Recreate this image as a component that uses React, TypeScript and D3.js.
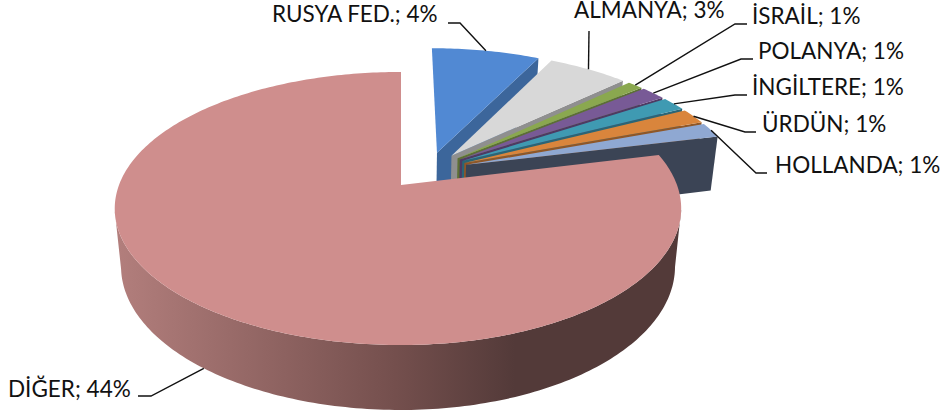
import * as d3 from 'd3';

const WIDTH = 944;
const HEIGHT = 416;

// values (labels are rounded, slice angles give the decimals)
const countries = ['RUSYA FED.', 'ALMANYA', 'İSRAİL', 'POLANYA', 'İNGİLTERE', 'ÜRDÜN', 'HOLLANDA', 'DİĞER'];
const shares = [4.2, 3.1, 0.6, 0.95, 0.95, 1.05, 1.0, 44];
const shareLabels = ['4%', '3%', '1%', '1%', '1%', '1%', '1%', '44%'];

const topColors = ['#5189d3', '#d8d8d8', '#8aa84f', '#785a96', '#3f9ab2', '#d9853c', '#8fa8d2', '#cf8e8d'];
const sideColors = ['#3c669b', '#8f8f8f', '#5c7034', '#4e3a63', '#2a6576', '#8f5727', '#3b4455', 'url(#rim)'];

// label anchors and leader elbows
const labelPos = [
  [272, 22], [574, 18], [752, 24], [758, 59], [752, 95], [762, 132], [775, 173], [8, 397],
];
const elbows = [
  [[448, 23], [460, 23]],
  [[589, 31]],
  [[747, 24], [735, 24]],
  [[753, 59], [741, 59]],
  [[747, 95], [735, 95]],
  [[756, 132], [745, 132]],
  [[767, 173], [756, 173]],
  [[138, 396], [151, 396]],
];

// 3D pie projection: plane coords (u right, v back) through a perspective divide
const PERSP = 0.172;
const DEPTH = 56.7;
const BOTTOM_SCALE = 0.978;
const EXPLODE = 0.145;
const EXPLODE_BIAS = 0.011;
const APEX_X = 401;
const xScale = d3.scaleLinear().domain([-1, 1]).range([APEX_X - 279, APEX_X + 279]);
// the big slice's ellipse sits a little left of its apex
const bigX = d3.scaleLinear().domain([-1, 0, 1]).range([APEX_X - 282, APEX_X, APEX_X + 276]);
const yScale = d3.scaleLinear().domain([-1, 1]).range([185 + 132.5, 185 - 132.5]);
const cx = xScale(0);
const cy = yScale(0);

type Pt = [number, number];

function project(u: number, v: number, bottom: boolean, sx: (n: number) => number): Pt {
  const w = 1 + PERSP * v;
  const x = sx(u / w);
  const y = yScale(v / w);
  if (!bottom) return [x, y];
  return [cx + (x - cx) * BOTTOM_SCALE, cy + (y - cy) * BOTTOM_SCALE + DEPTH / w];
}

const arcs = d3.pie<number>().sort(null).value((d) => d)(shares);
const bisector = (a: d3.PieArcDatum<number>) => (a.startAngle + a.endAngle) / 2;
const dir = (a: number): Pt => [Math.sin(a), Math.cos(a)];
const lastIndex = arcs.length - 1;
const lastDir = dir(bisector(arcs[lastIndex]));

const line = d3.line();
const closed = (pts: Pt[]) => line(pts) + 'Z';

export default function App() {
  const slices = arcs.map((arc, i) => {
    const big = i === lastIndex;
    const sx = big ? bigX : xScale;
    const [bx, by] = dir(bisector(arc));
    const ou = EXPLODE * (bx - lastDir[0]) + (big ? 0 : EXPLODE_BIAS);
    const ov = EXPLODE * (by - lastDir[1]);
    const steps = Math.max(8, Math.ceil((arc.endAngle - arc.startAngle) * 60));
    const angles = d3.range(steps + 1).map((k) => arc.startAngle + ((arc.endAngle - arc.startAngle) * k) / steps);
    const on = (a: number, r: number, bottom = false) => {
      const [s, c] = dir(a);
      return project(ou + r * s, ov + r * c, bottom, sx);
    };
    const apex = project(ou, ov, false, sx);
    const topFace = closed([apex, ...angles.map((a) => on(a, 1))]);
    // cut face at the slice's clockwise end
    const cutFace = closed([apex, on(arc.endAngle, 1), on(arc.endAngle, 1, true), project(ou, ov, true, sx)]);
    // outer rim, only where it faces the viewer (x falling while the angle grows)
    const front = angles.filter((a, k) => k < steps && on(angles[k + 1], 1)[0] < on(a, 1)[0]);
    const isFront = front.length > 1;
    const rim = isFront
      ? closed([...front.map((a) => on(a, 1)), ...front.slice().reverse().map((a) => on(a, 1, true))])
      : null;
    const anchor = on(bisector(arc), 1, isFront);
    return { i, topFace, cutFace, rim, isFront, anchor };
  });

  return (
    <svg width={WIDTH} height={HEIGHT} style={{ position: 'absolute', left: 0, top: 0, display: 'block' }}>
      <defs>
        <linearGradient id="rim" gradientUnits="userSpaceOnUse" x1={118} x2={515} y1={0} y2={0}>
          <stop offset="0" stopColor="#b27e7c" />
          <stop offset="0.7" stopColor="#744f4d" />
          <stop offset="1" stopColor="#533a39" />
        </linearGradient>
      </defs>
      {slices.map((s) => (
        <g key={countries[s.i]}>
          {!s.isFront && <path d={s.cutFace} fill={sideColors[s.i]} />}
          {s.rim && <path d={s.rim} fill={sideColors[s.i]} />}
          <path d={s.topFace} fill={topColors[s.i]} />
        </g>
      ))}
      {slices.map((s) => (
        <path
          key={countries[s.i]}
          d={line([...(elbows[s.i] as Pt[]), s.anchor]) ?? ''}
          fill="none"
          stroke="#111"
          strokeWidth={1.4}
        />
      ))}
      {countries.map((c, i) => (
        <text
          key={c}
          x={labelPos[i][0]}
          y={labelPos[i][1]}
          fontFamily="Lato, 'Open Sans', sans-serif"
          fontSize={22.5}
          fill="#111"
        >
          {`${c}; ${shareLabels[i]}`}
        </text>
      ))}
    </svg>
  );
}
